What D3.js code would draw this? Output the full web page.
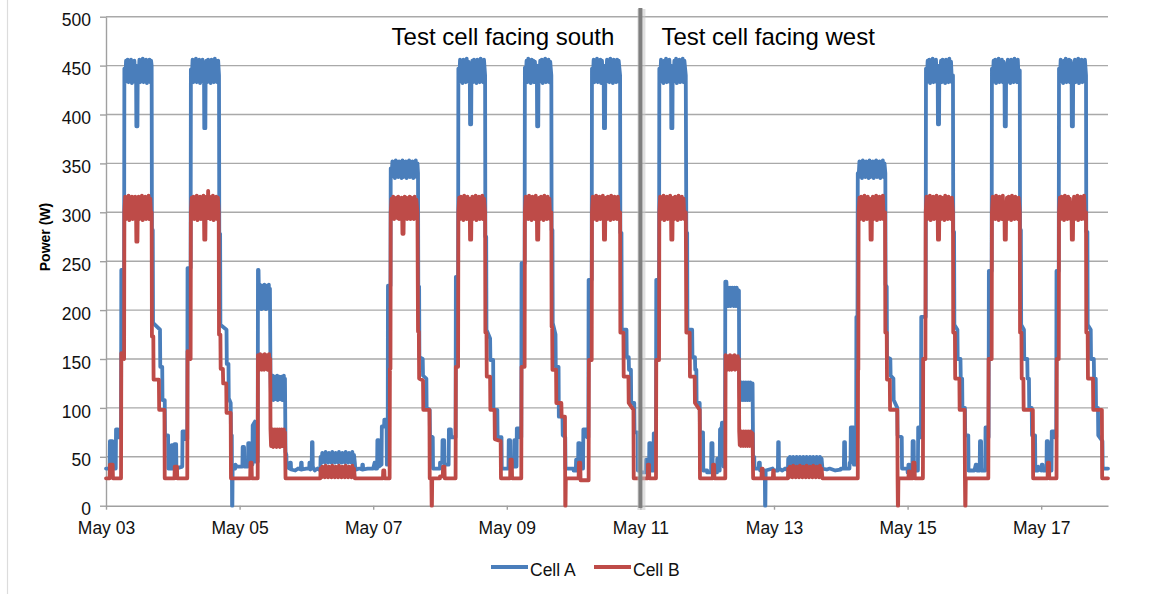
<!DOCTYPE html>
<html><head><meta charset="utf-8">
<script src="https://cdn.jsdelivr.net/npm/d3@7"></script>
<style>
html,body{margin:0;padding:0;background:#fff;}
svg{display:block;font-family:"Liberation Sans",Arial,Helvetica,sans-serif;}
</style></head>
<body>
<svg id="chart" width="1154" height="594"></svg>
<script>
// ---------- DATA ----------
// Each day string holds "hour:watts" pairs, day 0 = May 03
const startDate = [2013, 4, 3];
const endDate = [2013, 4, 18];
const xTickDays = ["May 03","May 05","May 07","May 09","May 11","May 13","May 15","May 17"];
const yTicks = [0,50,100,150,200,250,300,350,400,450,500];
const seriesNames = ["Cell A","Cell B"];
const dividerDay = 8; // May 11
const panelLabels = ["Test cell facing south","Test cell facing west"];

const cellA = [
"0:38 1.3:38 1.4:66 2.3:66 2.4:38 3.5:38 3.6:78 4.3:78 4.4:70 5.4:70 5.5:241 6.5:241 6.6:447 6.9:433 7.2:455 7.5:434 7.8:456 8.1:433 8.4:453 8.7:435 9.0:456 9.3:432 9.6:454 9.9:434 10.2:455 10.5:433 10.8:450 10.9:388 11.3:388 11.4:445 11.7:434 12.0:456 12.3:433 12.6:454 12.9:435 13.2:457 13.5:433 13.8:455 14.1:434 14.4:456 14.7:432 15.0:454 15.3:435 15.6:456 15.9:433 16.2:455 16.4:450 16.5:282 16.8:282 16.9:187 19.4:180 19.5:142 20.2:142 20.3:108 21.1:108 21.2:72 22.3:72 22.4:38 23.5:38 23.6:62 23.9:62",
"0:38 0.5:38 0.6:63 1.2:63 1.3:38 3.4:40 3.5:76 4.2:76 4.3:68 5.2:68 5.3:243 6.4:243 6.5:446 6.8:434 7.1:456 7.4:433 7.7:454 8.0:435 8.3:457 8.6:433 8.9:455 9.2:434 9.5:456 9.8:432 10.1:454 10.4:435 10.7:456 11.0:433 11.2:450 11.3:386 11.7:386 11.8:445 12.1:455 12.4:433 12.7:456 13.0:434 13.3:454 13.6:432 13.9:456 14.2:435 14.5:455 14.8:433 15.1:457 15.4:434 15.7:454 16.0:433 16.3:455 16.6:440 16.7:278 17.0:278 17.1:185 19.3:180 19.4:145 20.0:145 20.1:110 20.8:105 20.9:72 21.2:72 21.3:0 21.4:0 21.5:40 22.4:38 22.5:42 23.0:40",
"0:40 1.0:40 1.1:60 1.6:60 1.7:40 3.0:40 3.1:64 3.6:64 3.7:40 4.6:42 4.7:82 5.5:86 5.6:45 6.5:45 6.6:241 6.8:241 6.9:224 7.1:204 7.3:226 7.5:203 7.7:224 7.9:201 8.1:225 8.3:204 8.5:223 8.7:202 8.9:226 9.1:203 9.3:224 9.5:201 9.7:225 9.9:204 10.1:223 10.3:202 10.5:226 10.7:203 10.9:222 11.1:132 11.3:109 11.5:131 11.7:110 11.9:133 12.1:108 12.3:130 12.5:111 12.7:132 12.9:109 13.1:131 13.3:110 13.5:133 13.7:108 13.9:130 14.1:111 14.3:132 14.5:109 14.7:131 14.9:110 15.1:132 15.3:108 15.5:130 15.7:111 15.9:133 16.1:109 16.3:130 16.5:55 16.8:52 16.9:40 18.0:38 18.1:44 18.4:44 18.5:37 20.0:36 21.0:38 22.0:37 22.1:44 22.3:44 22.4:37 24:38",
"0:38 1.0:38 1.1:44 1.3:44 1.4:37 1.9:38 2.0:65 2.2:65 2.3:40 3.0:36 4.0:38 5.0:36 5.1:50 5.4:44 5.7:54 6.0:45 6.3:53 6.6:44 6.9:55 7.2:45 7.5:52 7.8:44 8.1:54 8.4:46 8.7:53 9.0:44 9.3:55 9.6:45 9.9:52 10.2:44 10.5:54 10.8:46 11.1:53 11.4:44 11.7:55 12.0:45 12.3:52 12.6:44 12.9:54 13.2:46 13.5:53 13.8:44 14.1:55 14.4:45 14.7:52 15.0:44 15.3:54 15.6:46 15.9:53 16.2:44 16.5:55 16.8:45 17.1:52 17.4:44 17.5:40 18.0:37 19.0:38 20.0:37 20.1:42 20.3:42 20.4:37 22.0:38 23.0:38",
"0:38 0.5:44 0.7:38 1.4:38 1.5:67 2.0:67 2.1:40 3.0:42 3.1:81 3.9:81 4.0:88 4.8:88 4.9:42 5.2:42 5.3:225 6.2:225 6.3:345 6.6:336 6.9:352 7.2:337 7.5:351 7.8:335 8.1:353 8.4:338 8.7:350 9.0:336 9.3:352 9.6:337 9.9:351 10.2:335 10.5:353 10.8:336 11.1:350 11.4:337 11.7:352 12.0:335 12.3:351 12.6:338 12.9:353 13.2:336 13.5:350 13.8:337 14.1:352 14.4:335 14.7:351 15.0:338 15.3:353 15.6:336 15.9:350 16.1:340 16.2:224 16.5:224 16.6:152 17.8:150 17.9:133 19.1:130 19.2:100 20.3:98 20.4:72 21.4:70 21.5:38 24:38",
"0:44 0.8:44 0.9:67 1.5:67 1.6:42 3.1:42 3.2:78 3.9:78 4.0:70 5.6:70 5.7:234 6.5:234 6.6:447 6.9:433 7.2:456 7.5:434 7.8:454 8.1:432 8.4:456 8.7:435 9.0:455 9.3:433 9.6:457 9.9:434 10.2:454 10.5:433 10.7:450 10.8:390 11.2:390 11.3:445 11.6:455 11.9:433 12.2:456 12.5:435 12.8:454 13.1:432 13.4:456 13.7:434 14.0:455 14.3:433 14.6:457 14.9:435 15.2:454 15.5:433 15.8:456 16.2:440 16.3:275 16.6:275 16.7:180 18.0:171 18.1:149 19.1:149 19.2:98 20.6:98 20.7:70 22.1:70 22.2:38 24:38",
"0:38 0.6:38 0.7:67 1.2:67 1.3:40 2.6:40 2.7:67 3.1:67 3.2:40 3.5:40 3.6:79 4.6:79 4.7:70 5.2:70 5.3:248 6.4:248 6.5:448 6.8:434 7.1:455 7.4:433 7.7:457 8.0:435 8.3:454 8.6:432 8.9:456 9.2:434 9.5:455 9.8:433 10.1:454 10.4:435 10.8:450 10.9:388 11.3:388 11.4:446 11.7:433 12.0:455 12.3:434 12.6:456 12.9:432 13.2:454 13.5:435 13.8:457 14.1:433 14.4:455 14.7:434 15.0:456 15.3:433 15.6:454 16.0:440 16.1:282 16.4:282 16.5:187 17.5:175 17.6:142 18.6:142 18.7:91 20.0:91 20.1:72 21.0:70 21.1:38 24:38",
"0:36 0.8:36 0.9:47 1.1:47 1.2:36 1.6:36 1.7:64 2.2:64 2.3:38 3.4:38 3.5:78 4.7:78 4.8:70 5.3:70 5.4:231 6.5:231 6.6:447 6.9:434 7.2:456 7.5:433 7.8:455 8.1:435 8.4:457 8.7:433 9.0:454 9.3:434 9.6:456 9.9:432 10.2:455 10.5:434 10.8:450 10.9:386 11.3:386 11.4:445 11.7:433 12.0:456 12.3:435 12.6:454 12.9:433 13.2:457 13.5:434 13.8:455 14.1:432 14.4:456 14.7:435 15.0:454 15.3:433 15.6:456 15.9:434 16.2:455 16.7:440 16.8:279 17.2:279 17.3:180 19.0:180 19.1:152 19.8:152 19.9:139 20.6:139 20.7:105 21.8:105 21.9:75 23.0:75 23.1:36 24:36",
"0:34 1.9:34 2.0:47 2.3:47 2.4:34 3.1:34 3.2:64 3.7:64 3.8:36 4.7:36 4.8:74 5.6:74 5.7:231 6.7:231 6.8:447 7.1:433 7.4:456 7.7:434 8.0:454 8.3:432 8.6:455 8.9:435 9.2:457 9.5:433 9.8:454 10.1:434 10.4:456 10.7:433 11.0:450 11.1:386 11.5:386 11.6:445 11.9:433 12.2:455 12.5:434 12.8:457 13.1:432 13.4:454 13.7:435 14.0:456 14.3:433 14.6:455 14.9:434 15.2:457 15.5:433 15.8:455 16.3:440 16.5:279 16.8:279 16.9:180 18.6:180 18.7:152 19.6:152 19.7:139 20.1:139 20.2:105 21.3:105 21.4:75 22.5:75 22.6:36 24:36",
"0:34 1.4:34 1.5:64 1.9:64 2.0:34 3.5:34 3.6:48 3.9:48 4.0:36 4.5:36 4.6:78 5.2:80 5.3:85 5.8:85 5.9:40 6.4:40 6.5:229 6.9:229 7.0:222 7.2:205 7.4:223 7.6:204 7.8:221 8.0:206 8.2:223 8.4:204 8.6:222 8.8:205 9.0:223 9.2:206 9.4:221 9.6:204 9.8:223 10.0:205 10.2:222 10.4:204 10.6:223 10.8:206 11.0:221 11.2:205 11.4:220 11.5:126 11.7:109 11.9:125 12.1:108 12.3:126 12.5:110 12.7:124 12.9:108 13.1:126 13.3:109 13.5:125 13.7:108 13.9:126 14.1:110 14.3:124 14.5:108 14.7:126 14.9:109 15.1:125 15.3:108 15.5:126 15.7:110 15.9:124 16.1:108 16.3:125 16.5:50 16.9:50 17.0:38 18.5:38 18.6:44 18.9:44 19.0:36 20.7:36 20.8:0 20.9:0 21.0:36 23.5:38 24:36",
"0:36 1.4:36 1.5:65 1.7:65 1.8:38 3.0:36 4.0:38 5.0:36 5.1:48 5.4:41 5.7:50 6.0:42 6.3:49 6.6:40 6.9:50 7.2:42 7.5:48 7.8:41 8.1:50 8.4:40 8.7:49 9.0:42 9.3:50 9.6:41 9.9:48 10.2:40 10.5:50 10.8:42 11.1:49 11.4:41 11.7:50 12.0:40 12.3:48 12.6:42 12.9:50 13.2:41 13.5:49 13.8:40 14.1:50 14.4:42 14.7:48 15.0:41 15.3:50 15.6:40 15.9:49 16.2:42 16.5:50 16.8:41 17.1:48 17.4:38 19.0:37 20.0:38 22.0:36 24:37",
"0:38 1.1:38 1.2:65 1.5:65 1.6:38 3.1:38 3.2:44 3.5:44 3.6:80 4.6:80 4.7:42 5.5:42 5.6:193 6.0:193 6.1:340 6.4:336 6.7:352 7.0:337 7.3:351 7.6:335 7.9:353 8.2:338 8.5:350 8.8:336 9.1:352 9.4:337 9.7:351 10.0:335 10.3:353 10.6:336 10.9:350 11.2:337 11.5:352 11.8:335 12.1:351 12.4:338 12.7:353 13.0:336 13.3:350 13.6:337 13.9:352 14.2:335 14.5:351 14.8:338 15.1:353 15.4:336 15.7:350 16.0:340 16.1:226 16.5:224 16.6:152 17.8:150 17.9:133 18.9:130 19.0:108 20.3:100 20.4:72 21.9:70 22.0:38 24:38",
"0:34 0.2:34 0.3:42 0.6:42 0.7:34 1.7:34 1.8:66 2.2:66 2.3:36 3.7:36 3.8:80 4.5:80 4.6:70 4.8:70 4.9:193 6.5:193 6.6:447 6.9:433 7.2:455 7.5:434 7.8:456 8.1:432 8.4:454 8.7:435 9.0:457 9.3:433 9.6:455 9.9:434 10.2:456 10.5:433 10.8:450 10.9:390 11.3:390 11.4:445 11.7:434 12.0:455 12.3:433 12.6:456 12.9:435 13.2:454 13.5:432 13.8:456 14.1:434 14.4:455 14.7:433 15.0:457 15.3:435 15.6:454 15.9:433 16.3:440 16.4:280 16.7:280 16.8:185 17.9:180 18.0:150 19.0:150 19.1:130 19.6:130 19.7:100 20.6:100 20.7:72 21.8:72 21.9:36 24:36",
"0:36 0.5:42 0.8:42 0.9:36 1.9:36 2.0:66 2.4:66 2.5:36 3.9:36 4.0:80 4.8:80 4.9:70 5.1:70 5.2:240 6.2:240 6.3:447 6.6:433 6.9:455 7.2:434 7.5:456 7.8:432 8.1:454 8.4:435 8.7:457 9.0:433 9.3:455 9.6:434 9.9:456 10.2:433 10.5:454 10.8:450 10.9:388 11.3:388 11.4:446 11.7:433 12.0:456 12.3:435 12.6:454 12.9:432 13.2:456 13.5:434 13.8:455 14.1:433 14.4:457 14.7:435 15.0:454 15.3:433 15.6:456 15.9:434 16.3:445 16.4:282 16.7:282 16.8:185 17.8:180 17.9:150 19.0:150 19.1:130 19.6:130 19.7:100 20.6:100 20.7:72 21.8:72 21.9:36 22.8:36 22.9:40 24:36",
"0:36 0.1:36 0.2:42 0.5:42 0.6:36 1.9:36 2.0:66 2.4:66 2.5:36 3.7:36 3.8:76 4.6:76 4.7:70 5.4:70 5.5:240 6.3:240 6.4:447 6.7:433 7.0:456 7.3:434 7.6:454 7.9:432 8.2:455 8.5:435 8.8:457 9.1:433 9.4:454 9.7:434 10.0:456 10.3:433 10.6:455 10.9:450 11.0:388 11.4:388 11.5:445 11.8:434 12.1:456 12.4:433 12.7:454 13.0:435 13.3:457 13.6:432 13.9:455 14.2:434 14.5:456 14.8:433 15.1:454 15.4:435 15.7:456 16.1:440 16.2:280 16.6:280 16.7:185 17.8:180 17.9:150 18.9:150 19.0:130 19.6:130 19.7:100 20.4:100 20.5:72 22.0:66 22.1:38 24:38"
];

const cellB = [
"0:28 1.3:28 1.4:42 2.4:42 2.5:28 5.4:28 5.5:156 6.5:150 6.6:300 6.9:316 7.2:293 7.5:314 7.8:295 8.1:317 8.4:292 8.7:313 9.0:296 9.3:316 9.6:293 9.9:315 10.2:294 10.5:316 10.8:300 10.9:270 11.3:270 11.4:300 11.7:316 12.0:293 12.3:315 12.6:295 12.9:317 13.2:292 13.5:314 13.8:296 14.1:316 14.4:293 14.7:315 15.0:294 15.3:317 15.6:293 15.9:314 16.2:296 16.4:300 16.5:173 17.0:173 17.1:129 19.0:129 19.1:98 21.0:98 21.1:28 24:28",
"0:28 0.6:28 0.7:40 1.5:40 1.6:28 5.2:28 5.3:158 6.4:150 6.5:300 6.8:315 7.1:294 7.4:316 7.7:293 8.0:314 8.3:296 8.6:317 8.9:292 9.2:315 9.5:295 9.8:316 10.1:293 10.4:314 10.7:296 11.0:317 11.2:300 11.3:272 11.7:272 11.8:300 12.1:316 12.4:294 12.7:322 12.9:296 13.2:316 13.5:293 13.8:315 14.1:295 14.4:317 14.7:292 15.0:314 15.3:296 15.6:316 15.9:293 16.2:315 16.5:300 16.6:175 17.1:175 17.2:140 18.0:140 18.1:125 19.2:125 19.3:95 20.8:95 20.9:28 24:28",
"0:28 3.8:28 3.9:44 4.3:44 4.4:28 6.5:28 6.6:154 6.8:140 7.0:153 7.2:139 7.4:155 7.6:141 7.8:152 8.0:139 8.2:154 8.4:140 8.6:153 8.8:139 9.0:155 9.2:141 9.4:152 9.6:140 9.8:154 10.0:139 10.2:153 10.4:141 10.6:155 10.8:140 11.0:150 11.1:78 11.3:61 11.5:77 11.7:62 11.9:78 12.1:60 12.3:76 12.5:62 12.7:78 12.9:61 13.1:77 13.3:60 13.5:78 13.7:62 13.9:76 14.1:61 14.3:78 14.5:60 14.7:77 14.9:62 15.1:78 15.3:61 15.5:76 15.7:62 15.9:78 16.1:60 16.3:75 16.5:28 24:28",
"0:28 5.0:28 5.1:38 5.4:29 5.7:40 6.0:30 6.3:39 6.6:29 6.9:41 7.2:30 7.5:38 7.8:29 8.1:40 8.4:31 8.7:39 9.0:29 9.3:41 9.6:30 9.9:38 10.2:29 10.5:40 10.8:31 11.1:39 11.4:29 11.7:41 12.0:30 12.3:38 12.6:29 12.9:40 13.2:31 13.5:39 13.8:29 14.1:41 14.4:30 14.7:38 15.0:29 15.3:40 15.6:31 15.9:39 16.2:29 16.5:41 16.8:30 17.1:38 17.4:28 24:28",
"0:28 3.5:28 3.6:36 4.0:36 4.1:28 5.9:28 6.0:140 6.2:140 6.3:300 6.6:314 6.9:295 7.2:316 7.5:293 7.8:313 8.1:296 8.4:315 8.7:294 9.0:316 9.3:293 9.6:314 9.9:296 10.2:315 10.4:300 10.5:278 10.9:278 11.0:300 11.3:316 11.6:294 11.9:315 12.2:293 12.5:314 12.8:296 13.1:316 13.4:293 13.7:315 14.0:295 14.3:314 14.6:293 14.9:316 15.2:295 15.5:313 15.9:300 16.1:178 16.4:178 16.5:130 17.9:128 18.0:98 20.2:98 20.3:28 20.9:28 21.0:0 21.1:0 21.2:28 24:28",
"0:30 1.0:30 1.1:40 1.6:40 1.7:28 5.6:28 5.7:142 6.5:142 6.6:300 6.9:315 7.2:293 7.5:316 7.8:295 8.1:314 8.4:292 8.7:317 9.0:295 9.3:315 9.6:293 9.9:316 10.2:296 10.5:314 10.7:300 10.8:272 11.2:272 11.3:300 11.6:316 11.9:293 12.2:315 12.5:295 12.8:317 13.1:292 13.4:314 13.7:296 14.0:316 14.3:293 14.6:315 14.9:294 15.2:317 15.5:293 15.8:314 16.2:300 16.3:177 16.7:177 16.8:132 18.0:132 18.1:98 19.6:98 19.7:68 21.8:66 21.9:28 24:28",
"0:28 1.2:28 1.3:47 1.8:47 1.9:28 5.2:28 5.3:142 6.4:142 6.5:300 6.8:316 7.1:294 7.4:315 7.7:293 8.0:317 8.3:295 8.6:314 8.9:292 9.2:316 9.5:295 9.8:315 10.1:293 10.4:317 10.8:300 10.9:272 11.3:272 11.4:300 11.7:315 12.0:293 12.3:316 12.6:295 12.9:314 13.2:292 13.5:317 13.8:294 14.1:315 14.4:293 14.7:316 15.0:296 15.3:314 15.6:293 16.0:300 16.1:183 16.3:183 16.4:139 17.7:139 17.8:105 19.6:105 19.7:91 20.9:91 21.0:0 21.1:0 21.2:28 24:28",
"0:28 1.8:28 1.9:44 2.4:44 2.5:26 5.4:26 5.5:149 6.5:149 6.6:300 6.9:316 7.2:293 7.5:315 7.8:295 8.1:317 8.4:292 8.7:314 9.0:296 9.3:316 9.6:293 9.9:315 10.2:294 10.5:317 10.8:300 10.9:272 11.3:272 11.4:300 11.7:315 12.0:293 12.3:316 12.6:295 12.9:314 13.2:292 13.5:317 13.8:294 14.1:315 14.4:293 14.7:316 15.0:296 15.3:314 15.6:293 15.9:316 16.2:295 16.7:300 16.8:177 17.9:177 18.0:132 19.7:132 19.8:105 21.5:98 21.6:28 24:28",
"0:28 2.6:28 2.7:42 3.1:42 3.2:28 5.6:28 5.7:149 6.7:149 6.8:300 7.1:316 7.4:293 7.7:315 8.0:295 8.3:317 8.6:292 8.9:314 9.2:296 9.5:316 9.8:293 10.1:315 10.4:294 10.7:317 11.0:300 11.1:272 11.5:272 11.6:300 11.9:315 12.2:293 12.5:316 12.8:295 13.1:314 13.4:292 13.7:317 14.0:294 14.3:315 14.6:293 14.9:316 15.2:296 15.5:314 15.8:293 16.3:300 16.5:177 17.7:177 17.8:132 19.5:132 19.6:105 21.3:98 21.4:28 24:28",
"0:28 2.0:28 2.1:42 2.5:42 2.6:28 6.5:28 6.6:154 6.8:140 7.0:152 7.2:139 7.4:153 7.6:141 7.8:152 8.0:139 8.2:154 8.4:140 8.6:152 8.8:139 9.0:153 9.2:141 9.4:152 9.6:140 9.8:154 10.0:139 10.2:153 10.4:141 10.6:152 10.8:140 11.0:153 11.2:139 11.4:150 11.5:76 11.7:62 11.9:75 12.1:61 12.3:76 12.5:63 12.7:75 12.9:61 13.1:76 13.3:62 13.5:75 13.7:61 13.9:76 14.1:63 14.3:75 14.5:61 14.7:76 14.9:62 15.1:75 15.3:61 15.5:76 15.7:63 15.9:75 16.1:61 16.3:74 16.5:28 19.5:28 19.6:38 19.9:38 20.0:28 23.6:28 23.7:36 23.9:36 24:28",
"0:28 5.0:28 5.1:38 5.4:29 5.7:40 6.0:30 6.3:39 6.6:29 6.9:41 7.2:30 7.5:38 7.8:29 8.1:40 8.4:31 8.7:39 9.0:29 9.3:41 9.6:30 9.9:38 10.2:29 10.5:40 10.8:31 11.1:39 11.4:29 11.7:41 12.0:30 12.3:38 12.6:29 12.9:40 13.2:31 13.5:39 13.8:29 14.1:41 14.4:30 14.7:38 15.0:29 15.3:40 15.6:31 15.9:39 16.2:29 16.5:41 16.8:30 17.1:38 17.4:28 24:28",
"0:28 6.1:28 6.2:139 6.3:139 6.4:300 6.7:315 7.0:293 7.3:316 7.6:295 7.9:314 8.2:292 8.5:317 8.8:295 9.1:315 9.4:293 9.7:316 10.0:296 10.3:314 10.6:300 10.7:272 11.1:272 11.2:300 11.5:316 11.8:293 12.1:315 12.4:295 12.7:317 13.0:292 13.3:314 13.6:296 13.9:316 14.2:293 14.5:315 14.8:294 15.1:317 15.4:293 15.9:300 16.0:177 16.5:177 16.6:129 17.6:129 17.7:98 20.3:98 20.4:28 20.5:0 20.6:0 20.7:28 24:28",
"0:28 0.3:28 0.4:35 0.7:35 0.8:28 1.9:28 2.0:44 2.5:44 2.6:28 5.5:28 5.6:150 6.4:150 6.5:300 6.8:316 7.1:293 7.4:315 7.7:295 8.0:317 8.3:292 8.6:314 8.9:296 9.2:316 9.5:293 9.8:315 10.1:294 10.4:317 10.8:300 10.9:272 11.3:272 11.4:300 11.7:316 12.0:293 12.3:315 12.6:295 12.9:314 13.2:292 13.5:317 13.8:294 14.1:315 14.4:293 14.7:316 15.0:296 15.3:314 15.6:293 15.9:315 16.3:300 16.4:177 17.0:177 17.1:130 18.6:130 18.7:98 20.5:98 20.6:28 20.7:0 20.8:0 20.9:28 24:28",
"0:28 5.0:28 5.1:150 6.2:150 6.3:300 6.6:316 6.9:294 7.2:315 7.5:293 7.8:317 8.1:295 8.4:314 8.7:292 9.0:316 9.3:295 9.6:315 9.9:293 10.2:317 10.5:294 10.8:300 10.9:272 11.3:272 11.4:300 11.7:315 12.0:293 12.3:316 12.6:295 12.9:314 13.2:292 13.5:317 13.8:294 14.1:315 14.4:293 14.7:316 15.0:296 15.3:314 15.6:293 15.9:315 16.3:300 16.4:177 16.9:177 17.0:130 17.6:130 17.7:98 21.0:98 21.1:28 24:28",
"0:28 2.3:28 2.4:44 2.8:44 2.9:28 5.5:28 5.6:150 6.3:150 6.4:300 6.7:315 7.0:293 7.3:316 7.6:295 7.9:314 8.2:292 8.5:317 8.8:295 9.1:315 9.4:293 9.7:316 10.0:296 10.3:314 10.6:293 10.9:300 11.0:272 11.4:272 11.5:300 11.8:316 12.1:293 12.4:315 12.7:295 13.0:317 13.3:292 13.6:314 13.9:296 14.2:316 14.5:293 14.8:315 15.1:294 15.4:317 15.7:293 16.1:300 16.2:177 16.7:177 16.8:130 18.6:130 18.7:98 21.8:98 21.9:28 24:28"
];

// ---------- CHART ----------
const svg = d3.select("#chart");
const W = 1154, H = 594;
const plot = {left: 106, right: 1108, top: 16.7, bottom: 505.7};
const colors = {a: "#4a7ebb", b: "#be4b48"};
const t0 = new Date(...startDate), t1 = new Date(...endDate);

const x = d3.scaleTime().domain([t0, t1]).range([plot.left, plot.right]);
const y = d3.scaleLinear().domain([0, 500]).range([plot.bottom, plot.top]);

function build(days) {
  const pts = [];
  days.forEach((s, d) => {
    s.trim().split(/\s+/).forEach(p => {
      const [h, v] = p.split(":").map(Number);
      pts.push({t: new Date(t0.getTime() + (d * 24 + h) * 3600e3), v});
    });
  });
  return pts;
}
const dataA = build(cellA), dataB = build(cellB);

// frame line on the left
svg.append("line").attr("x1", 7.5).attr("x2", 7.5).attr("y1", 0).attr("y2", H)
  .attr("stroke", "#dcdcdc").attr("stroke-width", 1.2);

// gridlines
svg.append("g").selectAll("line").data(yTicks.filter(v => v > 0)).join("line")
  .attr("x1", plot.left).attr("x2", plot.right)
  .attr("y1", d => y(d)).attr("y2", d => y(d))
  .attr("stroke", "#a9a9a9").attr("stroke-width", 1.4);

// y axis
const yAxis = svg.append("g").attr("transform", `translate(${plot.left},0)`)
  .call(d3.axisLeft(y).tickValues(yTicks).tickSizeInner(6).tickSizeOuter(0).tickPadding(9));
yAxis.select(".domain").attr("stroke", "#a0a0a0").attr("stroke-width", 1.4);
yAxis.selectAll(".tick line").attr("stroke", "#a0a0a0").attr("stroke-width", 1.4);
yAxis.selectAll("text").attr("font-size", "17.5px").attr("fill", "#111")
  .attr("font-family", "'Liberation Sans', Arial, sans-serif").attr("dy", "0.52em");

// x axis
const tickDates = xTickDays.map(s => d3.timeParse("%b %d %Y")(s + " " + startDate[0]));
const xAxis = svg.append("g").attr("transform", `translate(0,${plot.bottom})`)
  .call(d3.axisBottom(x).tickValues(tickDates).tickFormat(d3.timeFormat("%b %d"))
    .tickSizeInner(4).tickSizeOuter(0).tickPadding(12));
xAxis.select(".domain").attr("stroke", "#a0a0a0").attr("stroke-width", 1.4);
xAxis.selectAll(".tick line").attr("stroke", "#a0a0a0").attr("stroke-width", 1.4);
xAxis.selectAll("text").attr("font-size", "17.5px").attr("fill", "#111")
  .attr("font-family", "'Liberation Sans', Arial, sans-serif");

// series lines
const line = d3.line().x(d => x(d.t)).y(d => y(d.v));
svg.append("path").datum(dataA).attr("d", line).attr("fill", "none")
  .attr("stroke", colors.a).attr("stroke-width", 3.8).attr("stroke-linejoin", "round").attr("stroke-linecap", "round");
svg.append("path").datum(dataB).attr("d", line).attr("fill", "none")
  .attr("stroke", colors.b).attr("stroke-width", 3.8).attr("stroke-linejoin", "round").attr("stroke-linecap", "round");

// divider
const xd = x(new Date(t0.getTime() + dividerDay * 86400e3));
svg.append("line").attr("x1", xd + 1).attr("x2", xd + 1).attr("y1", 9).attr("y2", 510)
  .attr("stroke", "#c8c8c8").attr("stroke-width", 8).attr("opacity", 0.55);
svg.append("line").attr("x1", xd).attr("x2", xd).attr("y1", 8).attr("y2", 508)
  .attr("stroke", "#7f7f7f").attr("stroke-width", 4);

// panel labels
svg.append("text").attr("x", xd - 26).attr("y", 45).attr("text-anchor", "end")
  .attr("font-size", "24px").attr("fill", "#000").text(panelLabels[0]);
svg.append("text").attr("x", xd + 21).attr("y", 45).attr("text-anchor", "start")
  .attr("font-size", "24px").attr("fill", "#000").text(panelLabels[1]);

// y title
svg.append("text").attr("transform", `translate(50,237) rotate(-90)`)
  .attr("text-anchor", "middle").attr("font-size", "14px").attr("font-weight", "bold")
  .attr("fill", "#000").text("Power (W)");

// legend
const legend = [{name: seriesNames[0], c: colors.a, x: 491}, {name: seriesNames[1], c: colors.b, x: 594}];
const lg = svg.append("g").selectAll("g").data(legend).join("g");
lg.append("line").attr("x1", d => d.x).attr("x2", d => d.x + 37).attr("y1", 567).attr("y2", 567)
  .attr("stroke", d => d.c).attr("stroke-width", 4);
lg.append("text").attr("x", d => d.x + 39).attr("y", 576).attr("font-size", "17.5px")
  .attr("fill", "#111").text(d => d.name);
</script>
</body></html>
